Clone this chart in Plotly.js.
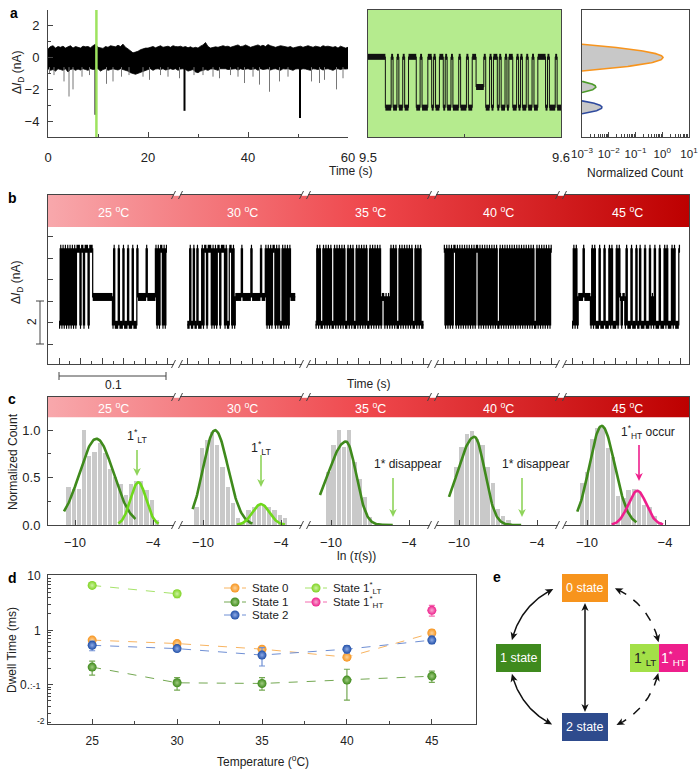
<!DOCTYPE html>
<html>
<head>
<meta charset="utf-8">
<script src="https://cdn.plot.ly/plotly-3.0.1.min.js"></script>
<style>html,body{margin:0;padding:0;background:#fff;}#chart{width:700px;height:770px;}</style>
</head>
<body>
<div id="chart"></div>
<script>
// ====================== DATA ======================
// Panel a: 60 s current trace, noise envelope sampled every 0.5 s (nA)
const aUpper = [0.55,0.7,0.75,0.6,0.7,0.65,0.72,0.6,0.68,0.75,0.6,0.7,0.65,0.6,0.72,0.68,0.7,0.62,0.75,0.85,
 0.65,0.6,0.58,0.7,0.65,0.75,0.72,0.68,0.78,0.7,0.85,0.65,0.55,0.4,0.3,0.35,0.4,0.5,0.55,0.6,
 0.6,0.65,0.7,0.62,0.7,0.75,0.65,0.7,0.72,0.65,0.75,0.7,0.68,0.72,0.65,0.7,0.62,0.68,0.6,0.65,
 0.6,0.72,0.8,0.95,0.7,0.6,0.62,0.68,0.65,0.7,0.75,0.7,0.72,0.65,0.7,0.78,0.8,0.7,0.72,0.8,
 0.7,0.65,0.7,0.75,0.8,0.72,0.78,0.7,0.82,0.75,0.7,0.65,0.7,0.75,0.72,0.7,0.65,0.7,0.6,0.65,
 0.7,0.72,0.65,0.7,0.75,0.7,0.65,0.72,0.7,0.65,0.75,0.7,0.72,0.68,0.65,0.7,0.6,0.72,0.65,0.6,0.65];
const aLower = [-0.7,-0.8,-0.75,-0.85,-0.7,-0.75,-0.8,-0.7,-0.9,-0.75,-0.7,-0.8,-0.72,-0.78,-0.7,-0.75,-0.8,-0.7,-0.75,-0.72,
 -0.7,-0.85,-0.75,-0.7,-0.8,-0.75,-0.7,-0.72,-0.78,-0.7,-0.75,-0.8,-0.85,-0.95,-1.0,-1.05,-0.95,-0.9,-0.85,-0.8,
 -0.75,-0.7,-0.8,-0.72,-0.7,-0.75,-0.7,-0.78,-0.72,-0.7,-0.75,-0.7,-0.8,-0.72,-0.7,-0.75,-0.85,-0.8,-0.75,-0.9,
 -0.95,-0.85,-0.8,-0.75,-0.8,-0.72,-0.7,-0.75,-0.8,-0.7,-0.72,-0.7,-0.75,-0.7,-0.72,-0.7,-0.78,-0.7,-0.75,-0.72,
 -0.7,-0.75,-0.72,-0.7,-0.8,-0.7,-0.75,-0.72,-0.7,-0.78,-0.72,-0.7,-0.75,-0.8,-0.7,-0.72,-0.7,-0.75,-0.8,-0.72,
 -0.7,-0.75,-0.7,-0.72,-0.75,-0.8,-0.7,-0.72,-0.75,-0.7,-0.78,-0.72,-0.7,-0.75,-0.8,-0.72,-0.7,-0.75,-0.7,-0.72,-0.7];
const aSpikeTime  = [0.3,1.2,3.2,4.2,5.0,6.8,8.3,11.7,13.0,14.7,16.2,19.0,20.3,22.5,24.0,26.3,29.2,31.0,33.0,34.3,36.5,38.0,39.3,41.0,42.3,44.3,46.3,48.0,52.7,54.3,55.3,57.7,59.0];
const aSpikeDepth = [-1.0,-1.1,-1.5,-2.45,-2.0,-1.2,-1.1,-1.65,-1.5,-1.2,-1.1,-1.2,-1.4,-1.1,-1.2,-1.3,-1.1,-1.1,-1.2,-1.3,-1.1,-1.2,-1.6,-1.2,-1.7,-2.15,-1.5,-1.2,-1.5,-1.6,-1.4,-2.0,-1.3];
const aEventTime  = [9.5, 27.3, 50.4];
const aEventDepth = [-3.6, -3.35, -3.8];
// zoomed window 9.5–9.6 s: state sequence (0 = state 0, 1 = state 1, 2 = state 2)
const aZoomStates = "000000000"+"222022022022"+"0000220222"+"002022002022"+"0222022202200"+"1111"+"02202002022"+"02002202022"+"022022000020222022";
const aZoomLevels = [0.05, -1.85, -3.15];
// current histogram fits (normalized count vs current)
const histPeak   = [1.07, 0.0033, 0.0056];
const histCenter = [0.0, -1.85, -3.13];
const histWidth  = [0.225, 0.227, 0.22];

// Panel b: 0.1 s trace at each temperature, state sequences
const temps = ['25','30','35','40','45'];
const bStates = [
 "2020202020202020"+"0020020002000"+"11111111111111111"+"2022202220222022202220"+"111111101111111"+"0202002020",
 "220220220222"+"0200200020202002000202200202"+"1111101111111011111110111"+"020202002020220202020"+"1111",
 "2020220202020220202020202202020220202020202202020202021121212020202202020202020220202022",
 "0202020200202020202020202020020202020202020202202020202020202020202020202020220202020202020",
 "2020211110111112020222022202220202220201211202220222022022202220212022202220202220202220"
];
const bLevels = [-0.55, -2.8, -4.1];

// Panel c: dwell-time histograms, bins of 0.4 in ln(tau)
const cBinStart = [-10.5, -10.5, -10.2, -10.2, -10.4];
const cBins = [
 [0.40,0.38,0.38,1.0,0.73,0.77,0.86,0.76,0.59,0.51,0.43,0.32,0.43,0.46,0.46,0.37,0.26,0.05],
 [0.19,0.81,0.90,0.98,0.84,0.61,0.40,0.23,0.07,0.035,0.16,0.19,0.21,0.21,0.19,0.16,0.11,0.07],
 [0.56,0.84,1.0,0.82,1.0,0.66,0.49,0.30,0.08],
 [0.61,0.82,0.96,0.99,0.91,0.84,0.61,0.44,0.17,0.09,0.05],
 [0.44,0.56,0.91,1.02,1.02,0.81,0.72,0.31,0.28,0.37,0.38,0.35,0.21,0.19,0.10,0.03]
];
// main (state 1) fits
const cFitPeak   = [0.91, 1.0, 0.88, 0.93, 1.045];
const cFitCenter = [-8.35, -9.08, -8.85, -8.82, -8.87];
const cFitLeftW  = [1.3, 0.91, 1.4, 1.29, 0.94];
const cFitRightW = [1.3, 1.0, 0.78, 0.8, 1.0];
const cFitFrom   = [-10.85, -10.8, -10.85, -10.77, -10.75];
const cFitTo     = [-5.35, -6.2, -5.23, -5.18, -6.18];
// 1* fits (segment index, peak, center, width, range)
const cStarSeg    = [0, 1, 4];
const cStarPeak   = [0.45, 0.22, 0.36];
const cStarCenter = [-5.13, -5.54, -6.13];
const cStarWidth  = [0.6, 0.65, 0.7];
const cStarFrom   = [-6.67, -7.4, -8.1];
const cStarTo     = [-3.54, -3.7, -4.13];

// Panel d: dwell time (ms) vs temperature
const dTemps = [25, 30, 35, 40, 45];
const dState0 = [0.66, 0.57, 0.45, 0.32, 0.89], dState0Hi = [0.72, 0.61, 0.48, 0.38, 1.03], dState0Lo = [0.60, 0.53, 0.42, 0.28, 0.78];
const dState1 = [0.21, 0.108, 0.105, 0.121, 0.143], dState1Hi = [0.27, 0.135, 0.135, 0.192, 0.177], dState1Lo = [0.15, 0.079, 0.079, 0.052, 0.11];
const dState2 = [0.53, 0.46, 0.35, 0.45, 0.66], dState2Hi = [0.63, 0.49, 0.48, 0.52, 0.78], dState2Lo = [0.42, 0.43, 0.22, 0.38, 0.57];
const dLTTemps = [25, 30], dStateLT = [6.7, 4.7], dStateLTHi = [7.1, 5.4], dStateLTLo = [6.3, 3.97];
const dHTTemps = [45], dStateHT = [2.33], dStateHTHi = [2.87], dStateHTLo = [1.83];

// ====================== STYLE / BUILD ======================
const FONT = 'Liberation Sans, Arial, Helvetica, sans-serif';
const W = 700, H = 770;
const xd = (a, b) => [a / W, b / W];
const yd = (top, bottom) => [1 - bottom / H, 1 - top / H];
const C = {orange:'#f7941d', green:'#3f8a1c', blue:'#1f4ea6', lt:'#7ed321', ht:'#ee1f8c',
           orangeL:'#f8b461', greenL:'#74a852', blueL:'#6f8fd4', ltL:'#a6e36a', htL:'#f46cb0',
           orangeT:'#fcd29a', greenT:'#9fcb80', blueT:'#8eaae6', ltT:'#cdf2a2', htT:'#f8a9d1',
           boxGreen:'#3f8a1e', boxBlue:'#2e4b8d', boxLT:'#a3e048'};
const SEGB = 0.11875;          // spacing of segments in panel b (s)
const SEGC = 128 / 13;         // spacing of segments in panel c (ln units)
const traces = [];
const shapes = [];
const annotations = [];
const sq = v => v * v;

// ---------- panel a ----------
const aTime = aUpper.map((_, i) => i * 0.5);
traces.push({type:'scatter', mode:'lines', x: aTime.concat(aTime.slice().reverse()),
  y: aUpper.concat(aLower.slice().reverse()), fill:'toself', fillcolor:'#000',
  line:{color:'#000', width:0.8}, xaxis:'x', yaxis:'y', hoverinfo:'skip'});
(function(){
  const sx = [], sy = [];
  aSpikeTime.forEach((t, i) => { sx.push(t, t, null); sy.push(-0.6, aSpikeDepth[i], null); });
  traces.push({type:'scatter', mode:'lines', x:sx, y:sy, line:{color:'#777', width:1}, xaxis:'x', yaxis:'y', hoverinfo:'skip'});
  const ex = [], ey = [];
  aEventTime.forEach((t, i) => { ex.push(t, t, null); ey.push(-0.6, aEventDepth[i], null); });
  traces.push({type:'scatter', mode:'lines', x:ex, y:ey, line:{color:'#000', width:2}, xaxis:'x', yaxis:'y', hoverinfo:'skip'});
})();

function telegraph(str, t0, dur, levels) {
  const n = str.length, dt = dur / n;
  const tx = [], ty = [], dx = [], dy = [];
  for (let k = 0; k < n; k++) { tx.push(t0 + k * dt); ty.push(levels[+str[k]]); }
  tx.push(t0 + n * dt); ty.push(levels[+str[n - 1]]);
  let i = 0;
  while (i < n) {
    let j = i; while (j < n && str[j] === str[i]) j++;
    const v = levels[+str[i]];
    dx.push(t0 + i * dt, t0 + j * dt, null); dy.push(v, v, null);
    i = j;
  }
  return {tx, ty, dx, dy};
}
(function(){
  const g = telegraph(aZoomStates, 9.5, 0.1, aZoomLevels);
  traces.push({type:'scatter', mode:'lines', x:g.tx, y:g.ty, line:{color:'#111', width:1, shape:'hv'}, xaxis:'x2', yaxis:'y2', hoverinfo:'skip'});
  traces.push({type:'scatter', mode:'lines', x:g.dx, y:g.dy, line:{color:'#111', width:6}, xaxis:'x2', yaxis:'y2', hoverinfo:'skip'});
})();

// histogram fits
const histColors = [C.orange, '#4c9a2a', '#2e4a9e'];
histPeak.forEach((A, k) => {
  const mu = histCenter[k], s = histWidth[k];
  const d = s * Math.sqrt(2 * Math.log(A / 1e-3));
  const xs = [], ys = [];
  for (let i = 0; i <= 100; i++) {
    const y = mu - d + 2 * d * i / 100;
    ys.push(y); xs.push(Math.max(1e-3, A * Math.exp(-sq(y - mu) / (2 * s * s))));
  }
  traces.push({type:'scatter', mode:'lines', x:xs.concat([1e-3]), y:ys.concat([ys[0]]), fill:'toself',
    fillcolor:'#c8c8c8', line:{width:0}, xaxis:'x3', yaxis:'y3', hoverinfo:'skip'});
  traces.push({type:'scatter', mode:'lines', x:xs, y:ys, line:{color:histColors[k], width:1.6}, xaxis:'x3', yaxis:'y3', hoverinfo:'skip'});
});

// ---------- gradient headers ----------
const headerScale = [[0,'#f8a8ac'],[0.5,'#ef474c'],[1,'#bd0000']];
function header(xa, ya, x0, x1, y0, y1) {
  return {type:'scatter', mode:'lines', x:[x0,x1,x1,x0,x0], y:[y0,y0,y1,y1,y0], fill:'toself',
    fillcolor:'#ef474c', fillgradient:{type:'horizontal', colorscale:headerScale},
    line:{width:0}, xaxis:xa, yaxis:ya, hoverinfo:'skip'};
}
const bRange = [-0.0102, 0.5833], bYRange = [-5.93, 1.96];
traces.push(header('x4', 'y4', bRange[0], bRange[1], 0.47, bYRange[1]));
const cRange = [-12.08, 37.23], cYRange = [0, 1.35];
traces.push(header('x5', 'y5', cRange[0], cRange[1], 1.137, cYRange[1]));

// ---------- panel b ----------
(function(){
  const tx = [], ty = [], dx = [], dy = [];
  bStates.forEach((s, k) => {
    const g = telegraph(s, k * SEGB, 0.1, bLevels);
    tx.push(...g.tx, null); ty.push(...g.ty, null);
    dx.push(...g.dx); dy.push(...g.dy);
  });
  traces.push({type:'scatter', mode:'lines', x:tx, y:ty, line:{color:'#000', width:1.25, shape:'hv'}, connectgaps:false, xaxis:'x4', yaxis:'y4', hoverinfo:'skip'});
  traces.push({type:'scatter', mode:'lines', x:dx, y:dy, line:{color:'#000', width:8}, xaxis:'x4', yaxis:'y4', hoverinfo:'skip'});
})();
const bMajor = [], bMinor = [];
temps.forEach((_, k) => { for (let j = 0; j <= 10; j++) (j % 2 ? bMinor : bMajor).push(k * SEGB + j * 0.01); });

// ---------- panel c ----------
(function(){
  const bx = [], by = [];
  cBins.forEach((arr, k) => arr.forEach((v, j) => { bx.push(cBinStart[k] + j * 0.4 + k * SEGC); by.push(v); }));
  traces.push({type:'bar', x:bx, y:by, width:0.33, marker:{color:'#c9c9c9', line:{width:0}}, xaxis:'x5', yaxis:'y5', hoverinfo:'skip'});
  cFitPeak.forEach((A, k) => {
    const xs = [], ys = [];
    for (let x = cFitFrom[k]; x <= cFitTo[k] + 1e-9; x += 0.05) {
      const s = x < cFitCenter[k] ? cFitLeftW[k] : cFitRightW[k];
      xs.push(x + k * SEGC); ys.push(A * Math.exp(-sq(x - cFitCenter[k]) / (2 * s * s)));
    }
    traces.push({type:'scatter', mode:'lines', x:xs, y:ys, line:{color:C.green, width:2.6}, xaxis:'x5', yaxis:'y5', hoverinfo:'skip'});
  });
  cStarPeak.forEach((A, i) => {
    const k = cStarSeg[i], xs = [], ys = [];
    for (let x = cStarFrom[i]; x <= cStarTo[i] + 1e-9; x += 0.05) {
      xs.push(x + k * SEGC); ys.push(A * Math.exp(-sq(x - cStarCenter[i]) / (2 * sq(cStarWidth[i]))));
    }
    traces.push({type:'scatter', mode:'lines', x:xs, y:ys, line:{color: k === 4 ? C.ht : '#6fd81c', width:2.6}, xaxis:'x5', yaxis:'y5', hoverinfo:'skip'});
  });
})();
const cTickVals = [], cTickText = [];
temps.forEach((_, k) => { cTickVals.push(-10 + k * SEGC, -4 + k * SEGC); cTickText.push('\u221210', '\u22124'); });

// ---------- panel d ----------
function dTrace(x, y, hi, lo, col, lineCol, tint) {
  return {type:'scatter', mode:'lines+markers', x, y,
    error_y:{type:'data', symmetric:false, array:hi.map((h, i) => h - y[i]), arrayminus:lo.map((l, i) => y[i] - l), color:lineCol, thickness:1.2, width:3},
    line:{color:lineCol, width:1, dash:'dash'},
    marker:{size:9, color:col, gradient:{type:'radial', color:tint}, line:{width:0}},
    xaxis:'x6', yaxis:'y6', hoverinfo:'skip'};
}
traces.push(dTrace(dTemps, dState1, dState1Hi, dState1Lo, C.green, C.greenL, C.greenT));
traces.push(dTrace(dTemps, dState0, dState0Hi, dState0Lo, C.orange, C.orangeL, C.orangeT));
traces.push(dTrace(dTemps, dState2, dState2Hi, dState2Lo, C.blue, C.blueL, C.blueT));
traces.push(dTrace(dLTTemps, dStateLT, dStateLTHi, dStateLTLo, C.lt, C.ltL, C.ltT));
traces.push(dTrace(dHTTemps, dStateHT, dStateHTHi, dStateHTLo, C.ht, C.htL, C.htT));

// ---------- overlay (pixel) layer: legend of d, diagram e ----------
function px(xs, ys, line) { return {type:'scatter', mode:'lines', x:xs, y:ys, line, xaxis:'x7', yaxis:'y7', hoverinfo:'skip'}; }
const legendItems = [
  {text:'State 0', col:C.orange, lc:C.orangeL, tint:C.orangeT, x:224, y:588},
  {text:'State 1', col:C.green, lc:C.greenL, tint:C.greenT, x:224, y:602},
  {text:'State 2', col:C.blue, lc:C.blueL, tint:C.blueT, x:224, y:615},
  {text:'State 1<sup>*</sup><sub>LT</sub>', col:C.lt, lc:C.ltL, tint:C.ltT, x:305, y:588},
  {text:'State 1<sup>*</sup><sub>HT</sub>', col:C.ht, lc:C.htL, tint:C.htT, x:305, y:602}
];
legendItems.forEach(it => {
  traces.push(px([it.x, it.x + 22], [it.y, it.y], {color:it.lc, width:1, dash:'dash'}));
  traces.push({type:'scatter', mode:'markers', x:[it.x + 11], y:[it.y], marker:{size:9, color:it.col, gradient:{type:'radial', color:it.tint}, line:{width:0}}, xaxis:'x7', yaxis:'y7', hoverinfo:'skip'});
  annotations.push({xref:'x7', yref:'y7', x:it.x + 26, y:it.y, text:it.text, showarrow:false, xanchor:'left', yanchor:'middle', font:{family:FONT, size:11.5, color:'#222'}});
});

// arrowhead as a filled path (tip, unit direction of travel)
function head(tx, ty, ux, uy, color, L, w) {
  L = L || 8; w = w || 3.6;
  const bx = tx - ux * L, by = ty - uy * L, nx = -uy, ny = ux;
  const mx = tx - ux * L * 0.72, my = ty - uy * L * 0.72;
  shapes.push({type:'path', xref:'x7', yref:'y7', layer:'above', fillcolor:color, line:{width:0},
    path:`M${tx},${ty} L${bx + nx * w},${by + ny * w} L${mx},${my} L${bx - nx * w},${by - ny * w} Z`});
}
// diagram e arcs
const EC = [585, 657], ER = 75;
const arcs = [[193, 245, false], [116, 167, false], [293.5, 348.7, true], [12.4, 65.2, true]];
arcs.forEach(([a0, a1, dashed]) => {
  const xs = [], ys = [];
  for (let a = a0 + 3; a <= a1 - 3 + 1e-9; a += 1) { const r = a * Math.PI / 180; xs.push(EC[0] + ER * Math.cos(r)); ys.push(EC[1] + ER * Math.sin(r)); }
  traces.push(px(xs, ys, {color:'#111', width:1.5, dash: dashed ? 'dash' : 'solid'}));
  const r1 = a1 * Math.PI / 180, r0 = a0 * Math.PI / 180;
  head(EC[0] + ER * Math.cos(r1), EC[1] + ER * Math.sin(r1), -Math.sin(r1 - 0.05), Math.cos(r1 - 0.05), '#111');
  head(EC[0] + ER * Math.cos(r0), EC[1] + ER * Math.sin(r0), Math.sin(r0 + 0.05), -Math.cos(r0 + 0.05), '#111');
});
traces.push(px([585, 585], [608, 707], {color:'#111', width:1.5}));
head(585, 603, 0, -1, '#111'); head(585, 712, 0, 1, '#111');

// boxes of e
function rect(x0, y0, x1, y1, fill) { shapes.push({type:'rect', xref:'x7', yref:'y7', x0, y0, x1, y1, fillcolor:fill, line:{width:0}, layer:'above'}); }
function txt(x, y, text, o) {
  const a = {xref:'x7', yref:'y7', x, y, text, showarrow:false, xanchor:'center', yanchor:'middle', font:{family:FONT, size:12, color:'#222'}};
  if (o) { if (o.font) a.font = Object.assign({}, a.font, o.font); for (const k in o) if (k !== 'font') a[k] = o[k]; }
  annotations.push(a);
}
rect(562, 574, 608, 602, C.orange); txt(585, 588, '0 state', {font:{color:'#fff', size:12.5}});
rect(496, 644, 541, 672, C.boxGreen); txt(518.5, 658, '1 state', {font:{color:'#fff', size:12.5}});
rect(562, 713, 608, 741, C.boxBlue); txt(585, 727, '2 state', {font:{color:'#fff', size:12.5}});
rect(630, 644, 659, 672, C.boxLT); txt(644.5, 658, '1<sup>*</sup><sub>LT</sub>', {font:{color:'#222', size:14}});
rect(659, 644, 688, 672, C.ht); txt(673.5, 658, '1<sup>*</sup><sub>HT</sub>', {font:{color:'#fff', size:14}});

// ---------- break marks, scale bars ----------
function seg(x0, y0, x1, y1, col, w) { shapes.push({type:'line', xref:'x7', yref:'y7', x0, y0, x1, y1, line:{color:col || '#444', width:w || 1}, layer:'above'}); }
[177, 305, 433, 561].forEach(bx => {
  [[195, true], [364, false], [397, true], [525, false]].forEach(([e, top]) => {
    shapes.push({type:'rect', xref:'x7', yref:'y7', x0:bx - 3, x1:bx + 3, y0: top ? e - 4 : e - 0.8, y1: top ? e + 0.8 : e + 4, fillcolor:'#fff', line:{width:0}, layer:'above'});
    seg(bx - 5.5, e + 4, bx - 1.5, e - 4); seg(bx + 1.5, e + 4, bx + 5.5, e - 4);
  });
});
seg(59, 376, 166, 376); seg(59, 372, 59, 380); seg(166, 372, 166, 380);
seg(40, 301, 40, 344); seg(36, 301, 44, 301); seg(36, 344, 44, 344);
txt(113, 385, '0.1', {font:{size:12}});
txt(32, 322, '2', {font:{size:12}, textangle:-90});

// green window in a
shapes.push({type:'rect', xref:'x2 domain', yref:'y2 domain', x0:0, x1:1, y0:0, y1:1, fillcolor:'#b5eb8e', line:{width:0}, layer:'below'});
shapes.push({type:'line', xref:'x', yref:'y', x0:9.68, x1:9.68, y0:-5, y1:3, line:{color:'#9ee35f', width:2.5}, layer:'above'});

// ---------- text ----------
const bold = {font:{size:14, color:'#000'}};
txt(14, 13, '<b>a</b>', bold); txt(12, 198, '<b>b</b>', bold); txt(12, 399, '<b>c</b>', bold);
txt(12, 578, '<b>d</b>', bold); txt(497, 577, '<b>e</b>', bold);
txt(18, 73, '\u0394<i>I</i><sub>D</sub> (nA)', {textangle:-90});
txt(351, 171, 'Time (s)');
txt(635, 173, 'Normalized Count');
txt(17, 283, '\u0394<i>I</i><sub>D</sub> (nA)', {textangle:-90});
txt(369, 384, 'Time (s)');
const tempX = [113, 242, 370, 498, 627];
temps.forEach((t, k) => {
  txt(tempX[k], 212, t + ' <sup>o</sup>C', {font:{color:'#fff', size:12.5}});
  txt(tempX[k], 408, t + ' <sup>o</sup>C', {font:{color:'#fff', size:12.5}});
});
txt(13, 462, 'Normalized Count', {textangle:-90});
txt(356, 556, 'ln (<i>\u03c4</i>(s))');
// c arrows & labels
function arrow(x, y, len, col) { seg(x, y - len, x, y - 6, col, 1.6); head(x, y, 0, 1, col, 8, 3.8); }
const ltArrow = '#8fd45a';
arrow(137, 476, 26, ltArrow); txt(137, 436, '1<sup>*</sup><sub>LT</sub>', {font:{size:12.5}});
arrow(261, 487, 32, ltArrow); txt(261, 448, '1<sup>*</sup><sub>LT</sub>', {font:{size:12.5}});
arrow(393, 517, 39, ltArrow); txt(407, 464, '1* disappear');
arrow(522, 517, 39, ltArrow); txt(535, 464, '1* disappear');
arrow(639, 481, 36, C.ht); txt(648, 432, '1<sup>*</sup><sub>HT</sub> occur');
// d
txt(12, 650, 'Dwell Time (ms)', {textangle:-90});
txt(263, 761, 'Temperature (<sup>o</sup>C)');
txt(41, 721, '-2', {font:{size:8.5}});

// ---------- axes ----------
const base = {showline:true, linecolor:'#444', linewidth:1, zeroline:false, showgrid:false, ticks:'inside', ticklen:5, tickwidth:1,
  tickcolor:'#444', tickfont:{family:FONT, size:13, color:'#222'}, fixedrange:true, automargin:false};
const ax = o => Object.assign({}, base, o);
const minorA = vals => ({tickmode:'array', tickvals:vals, ticks:'inside', ticklen:3, tickwidth:1, tickcolor:'#444', showgrid:false});
const logMinor = decs => { const v = []; decs.forEach(d => { for (let m = 2; m <= 9; m++) v.push(m * d); }); return v; };

const layout = {
  width:W, height:H, margin:{l:0, r:0, t:0, b:0}, paper_bgcolor:'#fff', plot_bgcolor:'rgba(0,0,0,0)',
  showlegend:false, bargap:0, font:{family:FONT, color:'#222'},
  xaxis: ax({domain:xd(48, 348), range:[0, 60], tickmode:'array', tickvals:[0, 20, 40, 60], minor:minorA([10, 30, 50]), anchor:'y', ticklabelstandoff:8}),
  yaxis: ax({domain:yd(10, 137), range:[-5, 3], tickmode:'array', tickvals:[-4, -2, 0, 2], minor:minorA([-3, -1, 1]), anchor:'x', ticklabelstandoff:5}),
  xaxis2: ax({domain:xd(368, 561), range:[9.5, 9.6], tickmode:'array', tickvals:[9.5, 9.6], ticktext:['9.5', '9.6'], minor:minorA([9.55]), mirror:true, anchor:'y2', ticklabelstandoff:8}),
  yaxis2: ax({domain:yd(10, 137), range:[-5, 3], showticklabels:false, ticks:'', mirror:true, anchor:'x2'}),
  xaxis3: ax({type:'log', domain:xd(582, 689), range:[-3, 1], tickmode:'array', tickvals:[1e-3, 1e-2, 1e-1, 1, 10],
    ticktext:['10<sup>\u22123</sup>', '10<sup>\u22122</sup>', '10<sup>\u22121</sup>', '10<sup>0</sup>', '10<sup>1</sup>'],
    minor:minorA(logMinor([1e-3, 1e-2, 1e-1, 1])), mirror:true, anchor:'y3', ticklabelstandoff:6, tickfont:{family:FONT, size:11.5, color:'#222'}}),
  yaxis3: ax({domain:yd(10, 137), range:[-5, 3], showticklabels:false, ticks:'', mirror:true, anchor:'x3'}),
  xaxis4: ax({domain:xd(48, 689), range:bRange, tickmode:'array', tickvals:bMajor, showticklabels:false, ticklen:6, minor:minorA(bMinor), mirror:true, anchor:'y4'}),
  yaxis4: ax({domain:yd(195, 364), range:bYRange, tickmode:'array', tickvals:[0, -1, -2, -3, -4, -5], showticklabels:false, mirror:true, anchor:'x4'}),
  xaxis5: ax({domain:xd(48, 689), range:cRange, tickmode:'array', tickvals:cTickVals, ticktext:cTickText, mirror:true, anchor:'y5', ticklabelstandoff:5}),
  yaxis5: ax({domain:yd(397, 525), range:cYRange, tickmode:'array', tickvals:[0, 0.5, 1], ticktext:['0.0', '0.5', '1.0'], minor:minorA([0.25, 0.75]), mirror:true, anchor:'x5', ticklabelstandoff:4}),
  xaxis6: ax({domain:xd(48, 476), range:[22.4, 47.6], tickmode:'array', tickvals:dTemps, minor:minorA([27.5, 32.5, 37.5, 42.5]), mirror:true, anchor:'y6', ticklabelstandoff:6, tickfont:{family:FONT, size:12, color:'#222'}}),
  yaxis6: ax({type:'log', domain:yd(575, 724), range:[-1.725, 1.018], tickmode:'array', tickvals:[0.1, 1, 10],
    ticktext:['0.<span style="font-size:9px">:-1</span>', '1', '10'], minor:minorA(logMinor([0.01, 0.1, 1])), mirror:true, anchor:'x6', ticklabelstandoff:4, tickfont:{family:FONT, size:12, color:'#222'}}),
  xaxis7: {domain:[0, 1], range:[0, W], visible:false, fixedrange:true, anchor:'y7'},
  yaxis7: {domain:[0, 1], range:[H, 0], visible:false, fixedrange:true, anchor:'x7'},
  shapes, annotations
};

Plotly.newPlot('chart', traces, layout, {staticPlot:true, displayModeBar:false});
</script>
</body>
</html>
